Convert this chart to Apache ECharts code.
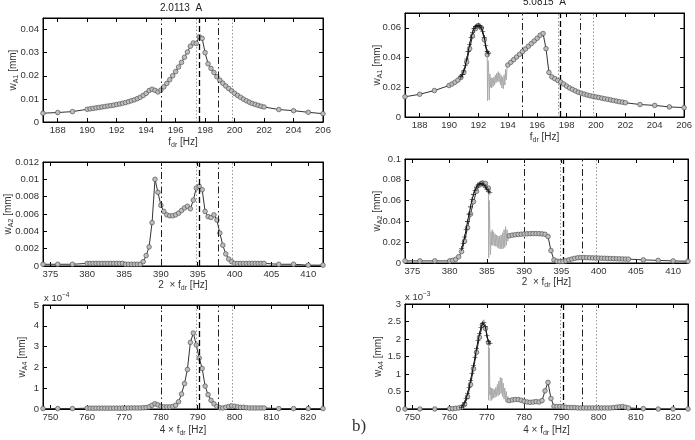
<!DOCTYPE html>
<html>
<head>
<meta charset="UTF-8">
<title>w_A1 / w_A2 / w_A4</title>
<script src="https://cdn.jsdelivr.net/npm/echarts@6/dist/echarts.min.js"></script>
<style>
	html, body { margin:0; padding:0; background:#fff; }
	#chart { width:695px; height:440px; }
</style>
</head>
<body>
<div id="chart"></div>
<script type="text/javascript">
	// left column (2.0113 A) - same frequency grid for all three harmonics
	var fL = [187,188,189,
		190,190.2,190.4,190.6,190.8,191,191.2,191.4,191.6,191.8,192,192.2,192.4,192.6,192.8,193,193.2,193.4,193.6,193.8,
		194,194.2,194.4,194.6,194.8,195,195.2,195.4,195.6,195.8,196,196.2,196.4,196.6,196.8,197,197.2,197.4,197.6,197.8,
		198,198.2,198.4,198.6,198.8,199,199.2,199.4,199.6,199.8,200,200.2,200.4,200.6,200.8,201,201.2,201.4,201.6,201.8,202,
		203,204,205,206];
	var wA1L = [0.0038,0.0041,0.0045,
		0.0055,0.0057,0.0059,0.0061,0.0063,0.0065,0.0067,0.0069,0.0071,0.0073,0.0076,0.0078,0.0081,0.0084,0.0088,0.0092,0.0096,0.0101,0.0107,0.0115,
		0.0124,0.0136,0.0142,0.0137,0.0130,0.0138,0.0152,0.0167,0.0183,0.0200,0.0218,0.0238,0.0258,0.0280,0.0303,0.0328,0.0342,0.0340,0.0369,0.0362,
		0.0300,0.0252,0.0232,0.0214,0.0196,0.0181,0.0168,0.0156,0.0145,0.0135,0.0124,0.0115,0.0107,0.0099,0.0092,0.0086,0.0080,0.0076,0.0072,0.0068,0.0065,
		0.0054,0.0049,0.0042,0.0036];
	var wA2L = [0.0002,0.0002,0.0002,
		0.0003,0.0003,0.0003,0.0003,0.0003,0.0003,0.0003,0.0003,0.0003,0.0003,0.0003,0.0003,0.0003,0.0002,0.0002,0.0002,0.0002,0.0002,0.0002,0.0005,
		0.0012,0.0022,0.0050,0.0100,0.0085,0.0070,0.0063,0.0059,0.0058,0.0058,0.0059,0.0061,0.0064,0.0067,0.0069,0.0066,0.0076,0.0090,0.0092,0.0088,
		0.0063,0.0057,0.0056,0.0059,0.0053,0.0038,0.0024,0.0014,0.0008,0.0005,0.0003,0.0003,0.0003,0.0003,0.0003,0.0003,0.0003,0.0003,0.0003,0.0003,0.0003,
		0.0002,0.0002,0.0001,0.0001];
	// x 10^-4 mm
	var wA4L = [0.02,0.02,0.02,
		0.04,0.04,0.04,0.04,0.04,0.04,0.04,0.04,0.04,0.04,0.04,0.04,0.04,0.04,0.05,0.05,0.05,0.05,0.05,0.06,
		0.07,0.10,0.18,0.25,0.20,0.13,0.10,0.10,0.10,0.12,0.18,0.35,0.72,1.22,1.90,3.20,3.65,3.08,2.45,1.95,
		1.10,0.69,0.42,0.25,0.12,0.06,0.05,0.08,0.12,0.15,0.13,0.10,0.08,0.08,0.06,0.05,0.05,0.05,0.05,0.05,0.05,
		0.02,0.02,0.02,0.02];

	// right column (5.0815 A): lower branch, '+' sweep, unstable (grey) zone, upper branch
	var fRa = [187,188,189,190,190.2,190.4,190.6,190.8,191,191.2,191.4,191.6,191.8,192,192.2,192.4,192.6];
	var wA1Ra = [0.0136,0.0153,0.0178,0.0212,0.0222,0.0234,0.0248,0.0266,0.0300,0.0370,0.0460,0.0545,0.0595,0.0614,0.0600,0.0520,0.0420];
	var wA2Ra = [0.002,0.002,0.002,0.002,0.0025,0.0035,0.006,0.011,0.021,0.034,0.047,0.059,0.069,0.075,0.077,0.0765,0.072];
	var wA4Ra = [0,0,0,0.01,0.01,0.02,0.03,0.05,0.13,0.35,0.70,1.15,1.62,2.05,2.40,2.30,1.90];

	var fRp = [190.8,190.9,191,191.1,191.2,191.3,191.4,191.5,191.6,191.7,191.8,191.9,192,192.1,192.2,192.3,192.4,192.5,192.6,192.7];
	var wA1Rp = [0.0270,0.0285,0.0310,0.0345,0.0390,0.0440,0.0490,0.0535,0.0570,0.0595,0.0608,0.0615,0.0617,0.0612,0.0600,0.0575,0.0535,0.0480,0.0440,0.0430];
	var wA2Rp = [0.014,0.019,0.025,0.032,0.040,0.047,0.054,0.061,0.066,0.070,0.073,0.075,0.076,0.0765,0.076,0.075,0.073,0.071,0.069,0.068];
	var wA4Rp = [0.05,0.10,0.18,0.30,0.45,0.62,0.82,1.02,1.25,1.48,1.72,1.95,2.15,2.32,2.45,2.48,2.35,2.10,1.92,1.88];

	var fRg = [192.60,192.62,192.66,192.70,192.74,192.78,192.82,192.86,192.90,192.95,193.00,193.05,193.10,193.15,193.20,
		193.25,193.30,193.35,193.40,193.45,193.50,193.55,193.60,193.65,193.70,193.75,193.80,193.85,193.90,193.95];
	var wA1Rg = [0.0420,0.0110,0.0380,0.0300,0.0115,0.0290,0.0200,0.0265,0.0195,0.0262,0.0205,0.0270,0.0215,0.0282,0.0230,
		0.0295,0.0240,0.0305,0.0235,0.0295,0.0215,0.0280,0.0195,0.0270,0.0190,0.0285,0.0215,0.0320,0.0250,0.0345];
	var wA2Rg = [0.070,0.005,0.060,0.030,0.008,0.030,0.017,0.032,0.017,0.030,0.0165,0.028,0.016,0.027,0.015,
		0.026,0.014,0.026,0.0135,0.027,0.0135,0.029,0.014,0.032,0.015,0.035,0.017,0.032,0.021,0.028];
	var wA4Rg = [1.90,0.25,1.75,0.40,0.62,0.24,0.60,0.28,0.58,0.32,0.56,0.33,0.62,0.36,0.70,
		0.38,0.80,0.41,0.90,0.44,0.88,0.35,0.74,0.28,0.60,0.21,0.50,0.17,0.36,0.22];

	var fRb = [194,194.2,194.4,194.6,194.8,195,195.2,195.4,195.6,195.8,196,196.2,196.4,196.6,196.8,197,197.2,197.4,197.6,197.8,
		198,198.2,198.4,198.6,198.8,199,199.2,199.4,199.6,199.8,200,200.2,200.4,200.6,200.8,201,201.2,201.4,201.6,201.8,202,
		203,204,205,206];
	var wA1Rb = [0.0350,0.0368,0.0386,0.0404,0.0422,0.0440,0.0458,0.0476,0.0494,0.0512,0.0530,0.0550,0.0562,0.0460,0.0300,0.0270,0.0258,0.0246,0.0235,0.0222,
		0.0208,0.0196,0.0186,0.0176,0.0167,0.0160,0.0154,0.0148,0.0143,0.0139,0.0135,0.0131,0.0127,0.0123,0.0119,0.0115,0.0111,0.0107,0.0103,0.0100,0.0096,
		0.0084,0.0078,0.0068,0.0063];
	var wA2Rb = [0.0262,0.0268,0.0272,0.0275,0.0277,0.0279,0.0281,0.0282,0.0283,0.0283,0.0282,0.0280,0.0276,0.0255,0.0120,0.0030,0.0018,0.0014,0.0015,0.0020,
		0.0030,0.0038,0.0045,0.0050,0.0052,0.0052,0.0051,0.0050,0.0049,0.0048,0.0047,0.0046,0.0045,0.0044,0.0043,0.0042,0.0041,0.0040,0.0039,0.0038,0.0037,
		0.0030,0.0025,0.0020,0.0017];
	var wA4Rb = [0.24,0.26,0.27,0.27,0.25,0.22,0.20,0.19,0.20,0.21,0.20,0.24,0.52,0.76,0.30,0.08,0.07,0.07,0.06,0.05,
		0.04,0.04,0.04,0.03,0.03,0.03,0.03,0.03,0.03,0.03,0.03,0.03,0.03,0.03,0.03,0.04,0.05,0.06,0.07,0.05,0.03,
		0.01,0,0,0];

	// vertical reference lines (base frequency, Hz)
	var vLines = [195, 197.4, 197.6, 198.9, 199.85];

	var xTicks1 = [188,190,192,194,196,198,200,202,204,206];
	var xTicks2 = [375,380,385,390,395,400,405,410];
	var xTicks3 = [750,760,770,780,790,800,810,820];
	var yTicksL1 = [0,0.01,0.02,0.03,0.04];
	var yTicksR1 = [0,0.02,0.04,0.06];
	var yTicksL2 = [0,0.002,0.004,0.006,0.008,0.01,0.012];
	var yTicksR2 = [0,0.02,0.04,0.06,0.08,0.1];
	var yTicksL3 = [0,1,2,3,4,5];
	var yTicksR3 = [0,0.5,1,1.5,2,2.5,3];

	var FONT = 'Liberation Sans';
	var lineStyles = [
		{type:[7,3,1.5,3], color:'#222', width:1},
		{type:[1.5,2], color:'#999', width:1},
		{type:[6,3], color:'#000', width:1.3},
		{type:[7,3,1.5,3], color:'#222', width:1},
		{type:[1.5,2], color:'#999', width:1}
	];
	var rich = {
		m: {fontSize:10, fontFamily:FONT, color:'#333', lineHeight:14},
		s: {fontSize:7, fontFamily:FONT, color:'#333', lineHeight:14, verticalAlign:'bottom', padding:[5,0,0,0]}
	};

	var panels = [
		{grid:{left:43, top:18, width:280, height:104}, k:1, min:187, max:206, xt:xTicks1, ymax:0.045, yt:yTicksL1,
			xname:'{m|f}{s|dr}{m| [Hz]}', yname:'{m|w}{s|A1}{m| [mm]}', xgap:13, ygap:23},
		{grid:{left:405, top:13, width:283, height:104}, k:1, min:187, max:206, xt:xTicks1, ymax:0.07, yt:yTicksR1,
			xname:'{m|f}{s|dr}{m| [Hz]}', yname:'{m|w}{s|A1}{m| [mm]}', xgap:13, ygap:21},
		{grid:{left:43, top:162, width:280, height:104}, k:2, min:374, max:412, xt:xTicks2, ymax:0.012, yt:yTicksL2,
			xname:'{m|2  × f}{s|dr}{m| [Hz]}', yname:'{m|w}{s|A2}{m| [mm]}', xgap:12, ygap:28},
		{grid:{left:405, top:159, width:283, height:104}, k:2, min:374, max:412, xt:xTicks2, ymax:0.1, yt:yTicksR2,
			xname:'{m|2  × f}{s|dr}{m| [Hz]}', yname:'{m|w}{s|A2}{m| [mm]}', xgap:12, ygap:21},
		{grid:{left:43, top:305, width:280, height:104}, k:4, min:748, max:824, xt:xTicks3, ymax:5, yt:yTicksL3,
			xname:'{m|4 × f}{s|dr}{m| [Hz]}', yname:'{m|w}{s|A4}{m| [mm]}', xgap:14, ygap:14},
		{grid:{left:405, top:304, width:283, height:105}, k:4, min:748, max:824, xt:xTicks3, ymax:3, yt:yTicksR3,
			xname:'{m|4 × f}{s|dr}{m| [Hz]}', yname:'{m|w}{s|A4}{m| [mm]}', xgap:14, ygap:20}
	];

	var seriesData = [
		[{f:fL, w:wA1L, kind:'o'}],
		[{f:fRg, w:wA1Rg, kind:'g'}, {f:fRa, w:wA1Ra, kind:'o'}, {f:fRb, w:wA1Rb, kind:'o'}, {f:fRp, w:wA1Rp, kind:'+'}],
		[{f:fL, w:wA2L, kind:'o'}],
		[{f:fRg, w:wA2Rg, kind:'g'}, {f:fRa, w:wA2Ra, kind:'o'}, {f:fRb, w:wA2Rb, kind:'o'}, {f:fRp, w:wA2Rp, kind:'+'}],
		[{f:fL, w:wA4L, kind:'o'}],
		[{f:fRg, w:wA4Rg, kind:'g'}, {f:fRa, w:wA4Ra, kind:'o'}, {f:fRb, w:wA4Rb, kind:'o'}, {f:fRp, w:wA4Rp, kind:'+'}]
	];

	var chart = echarts.init(document.getElementById('chart'));
	var grids = [], xAxes = [], yAxes = [], series = [];
	var tickStyle = {show:true, inside:true, length:4, lineStyle:{color:'#000'}};
	var lineAx = {show:true, onZero:false, lineStyle:{color:'#000', width:1}};

	panels.forEach(function(p, i)
	{
		grids.push({left:p.grid.left, top:p.grid.top, width:p.grid.width, height:p.grid.height,
			show:true, borderColor:'#000', borderWidth:1, backgroundColor:'#fff'});
		xAxes.push({type:'value', gridIndex:i, min:p.min, max:p.max, position:'bottom',
			axisLine:lineAx, splitLine:{show:false},
			axisTick:Object.assign({customValues:p.xt}, tickStyle),
			axisLabel:{customValues:p.xt, fontSize:9.5, fontFamily:FONT, color:'#333', margin:3},
			name:p.xname, nameLocation:'middle', nameGap:p.xgap, nameMoveOverlap:false, nameTextStyle:{rich:rich}});
		xAxes.push({type:'value', gridIndex:i, min:p.min, max:p.max, position:'top',
			axisLine:lineAx, splitLine:{show:false},
			axisTick:Object.assign({customValues:p.xt}, tickStyle), axisLabel:{show:false}});
		yAxes.push({type:'value', gridIndex:i, min:0, max:p.ymax, position:'left',
			axisLine:lineAx, splitLine:{show:false},
			axisTick:Object.assign({customValues:p.yt}, tickStyle),
			axisLabel:{customValues:p.yt, fontSize:9.5, fontFamily:FONT, color:'#333', margin:4},
			name:p.yname, nameLocation:'middle', nameGap:p.ygap, nameRotate:90, nameMoveOverlap:false,
			nameTextStyle:{rich:rich}});
		yAxes.push({type:'value', gridIndex:i, min:0, max:p.ymax, position:'right',
			axisLine:lineAx, splitLine:{show:false},
			axisTick:Object.assign({customValues:p.yt}, tickStyle), axisLabel:{show:false}});

		seriesData[i].forEach(function(s, j)
		{
			var pts = s.f.map(function(v, n) { return [v * p.k, s.w[n]]; });
			var item = {type:'line', xAxisIndex:2*i, yAxisIndex:2*i, data:pts, z:3+j,
				silent:true, animation:false, showSymbol:true};
			if(s.kind == 'o')
			{
				item.symbol = 'circle';
				item.symbolSize = 4.6;
				item.itemStyle = {color:'#bdbdbd', borderColor:'#555', borderWidth:0.7};
				item.lineStyle = {color:'#333', width:1};
			}
			else if(s.kind == '+')
			{
				item.symbol = 'path://M2.2,0H2.8V2.2H5V2.8H2.8V5H2.2V2.8H0V2.2H2.2Z';
				item.symbolSize = 5;
				item.itemStyle = {color:'#111'};
				item.lineStyle = {color:'#111', width:1};
			}
			else
			{
				item.symbol = 'none';
				item.lineStyle = {color:'#aaa', width:1};
			}
			if(j == 0)
			{
				item.markLine = {symbol:'none', silent:true, animation:false, label:{show:false},
					data: vLines.map(function(v, n) { return {xAxis: v * p.k, lineStyle: lineStyles[n]}; })};
			}
			series.push(item);
		});
	});

	var sup = {
		a: {fontSize:9.5, fontFamily:FONT, fill:'#333'},
		b: {fontSize:6.5, fontFamily:FONT, fill:'#333', verticalAlign:'top', padding:[0,0,6,0]}
	};
	var option =
	{
		animation:false,
		grid:grids,
		xAxis:xAxes,
		yAxis:yAxes,
		series:series,
		graphic:[
			{type:'text', left:160, top:3, style:{text:'2.0113  A', fontSize:10, fontFamily:FONT, fill:'#222'}},
			{type:'text', left:523, top:-3, style:{text:'5.0815  A', fontSize:10, fontFamily:FONT, fill:'#222'}},
			{type:'text', left:44, top:292, style:{text:'{a|x 10}{b|−4}', rich:sup}},
			{type:'text', left:405, top:291, style:{text:'{a|x 10}{b|−3}', rich:sup}},
			{type:'text', left:352, top:418, style:{text:'b)', fontSize:17, fontFamily:'Liberation Serif', fill:'#333'}}
		]
	};
	chart.setOption(option);
</script>
</body>
</html>
